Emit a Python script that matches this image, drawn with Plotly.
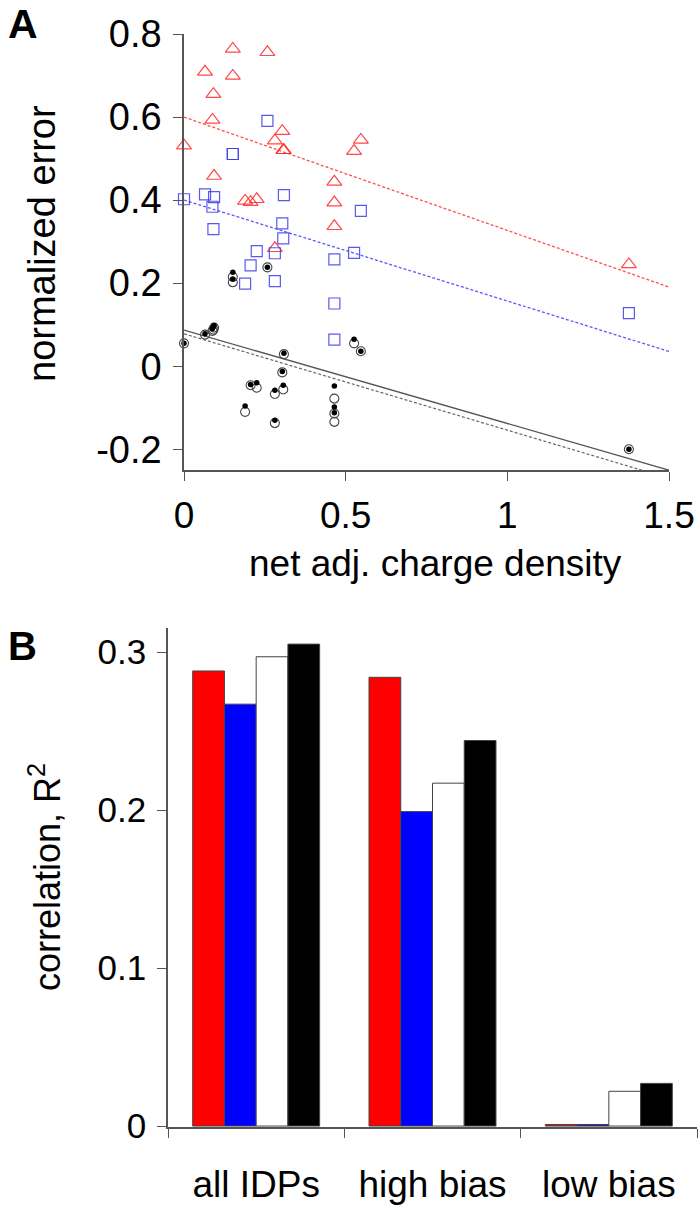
import plotly.graph_objects as go

# ---------------- Panel A data ----------------
charge_density = [0.000, 0.065, 0.088, 0.091, 0.093, 0.151, 0.151, 0.189, 0.206, 0.225, 0.258,
                  0.281, 0.281, 0.304, 0.307, 0.309, 0.465, 0.465, 0.465, 0.526, 0.547, 1.376]
err_red = [0.531, 0.709, 0.593, 0.655, 0.458, 0.764, 0.699, 0.398, 0.395, 0.402, 0.756,
           0.543, 0.284, 0.566, 0.520, 0.520, 0.444, 0.394, 0.337, 0.518, 0.545, 0.245]
err_blue = [0.402, 0.414, 0.384, 0.330, 0.407, 0.511, 0.511, 0.199, 0.243, 0.277, 0.591,
            0.272, 0.205, 0.344, 0.308, 0.412, 0.257, 0.151, 0.064, 0.273, 0.374, 0.128]
err_open = [0.055, 0.076, 0.085, 0.088, 0.093, 0.202, 0.215, -0.110, -0.046, -0.052, 0.238,
            -0.067, -0.137, -0.015, -0.056, 0.029, -0.078, -0.114, -0.134, 0.055, 0.036, -0.200]
err_filled = [0.055, 0.078, 0.090, 0.095, 0.098, 0.210, 0.226, -0.096, -0.044, -0.040, 0.238,
              -0.058, -0.130, -0.013, -0.046, 0.031, -0.048, -0.098, -0.112, 0.065, 0.036, -0.200]

# linear fits: (intercept, slope)
fit_red = (0.600, -0.273)
fit_blue = (0.400, -0.243)
fit_open = (0.087, -0.225)
fit_filled = (0.078, -0.232)
fit_x = [0.0, 1.5]

a_xticks = [0, 0.5, 1, 1.5]
a_xticklabels = ["0", "0.5", "1", "1.5"]
a_yticks = [-0.2, 0, 0.2, 0.4, 0.6, 0.8]
a_yticklabels = ["-0.2", "0", "0.2", "0.4", "0.6", "0.8"]

# ---------------- Panel B data ----------------
groups = ["all IDPs", "high bias", "low bias"]
r2_red = [0.288, 0.284, 0.001]
r2_blue = [0.267, 0.199, 0.001]
r2_open = [0.297, 0.217, 0.022]
r2_filled = [0.305, 0.244, 0.027]
b_yticks = [0, 0.1, 0.2, 0.3]
b_yticklabels = ["0", "0.1", "0.2", "0.3"]

FONT = "Liberation Sans, Arial, sans-serif"
AXC = "#555555"
W, H = 700, 1209

fig = go.Figure()


def fit_line(fit):
    return [fit[0] + fit[1] * x for x in fit_x]


# regression lines
fig.add_trace(go.Scatter(x=fit_x, y=fit_line(fit_red), mode="lines",
                         line=dict(color="rgba(255,60,60,0.9)", width=1.3, dash="3px,2px"),
                         xaxis="x", yaxis="y", showlegend=False))
fig.add_trace(go.Scatter(x=fit_x, y=fit_line(fit_blue), mode="lines",
                         line=dict(color="rgba(70,70,255,0.9)", width=1.3, dash="3px,2px"),
                         xaxis="x", yaxis="y", showlegend=False))
fig.add_trace(go.Scatter(x=fit_x, y=fit_line(fit_open), mode="lines",
                         line=dict(color="#555555", width=1.3),
                         xaxis="x", yaxis="y", showlegend=False))
fig.add_trace(go.Scatter(x=fit_x, y=fit_line(fit_filled), mode="lines",
                         line=dict(color="#666666", width=1.2, dash="3px,2px"),
                         xaxis="x", yaxis="y", showlegend=False))

# markers
fig.add_trace(go.Scatter(x=charge_density, y=err_red, mode="markers", cliponaxis=False,
                         marker=dict(symbol="triangle-up-open", size=13, color="rgba(255,40,40,0.85)",
                                     line=dict(width=1.2)),
                         xaxis="x", yaxis="y", showlegend=False))
fig.add_trace(go.Scatter(x=charge_density, y=err_blue, mode="markers", cliponaxis=False,
                         marker=dict(symbol="square-open", size=11, color="rgba(60,60,240,0.85)",
                                     line=dict(width=1.2)),
                         xaxis="x", yaxis="y", showlegend=False))
fig.add_trace(go.Scatter(x=charge_density, y=err_open, mode="markers", cliponaxis=False,
                         marker=dict(symbol="circle-open", size=9, color="#444444",
                                     line=dict(width=1.1)),
                         xaxis="x", yaxis="y", showlegend=False))
fig.add_trace(go.Scatter(x=charge_density, y=err_filled, mode="markers", cliponaxis=False,
                         marker=dict(symbol="circle", size=5.5, color="#000000"),
                         xaxis="x", yaxis="y", showlegend=False))

# bars
bar_line = dict(color="#444444", width=1)
for vals, col in [(r2_red, "#FF0000"), (r2_blue, "#0000FF"), (r2_open, "#FFFFFF"), (r2_filled, "#000000")]:
    fig.add_trace(go.Bar(x=groups, y=vals, marker=dict(color=col, line=bar_line),
                         xaxis="x2", yaxis="y2", showlegend=False))

common_axis = dict(ticks="outside", ticklen=9, tickcolor=AXC, tickwidth=1,
                   showline=True, linecolor=AXC, linewidth=1.5,
                   showgrid=False, zeroline=False, automargin=False)


def px_x(p):
    return p / W


def px_y(p):
    return 1 - p / H


fig.update_layout(
    width=W, height=H,
    margin=dict(l=0, r=0, t=0, b=0),
    paper_bgcolor="white", plot_bgcolor="white",
    font=dict(family=FONT, color="black", size=36),
    barmode="group", bargap=0.28, bargroupgap=0,
    xaxis=dict(domain=[px_x(184), px_x(669)], range=[0, 1.5], anchor="y",
               tickmode="array", tickvals=a_xticks, ticktext=a_xticklabels,
               tickfont=dict(size=37), ticklabelstandoff=3, **common_axis),
    yaxis=dict(domain=[px_y(470), px_y(34)], range=[-0.25, 0.8], anchor="x",
               tickmode="array", tickvals=a_yticks, ticktext=a_yticklabels,
               tickfont=dict(size=38), ticklabelstandoff=4, **common_axis),
    xaxis2=dict(domain=[px_x(168), px_x(697)], range=[-0.5, 2.5], anchor="y2",
                type="category", tickson="boundaries",
                tickfont=dict(size=37), ticklabelstandoff=24, **common_axis),
    yaxis2=dict(domain=[px_y(1127), px_y(628)], range=[-0.0006, 0.3152], anchor="x2",
                tickmode="array", tickvals=b_yticks, ticktext=b_yticklabels,
                tickfont=dict(size=35), ticklabelstandoff=4, **common_axis),
    annotations=[
        dict(text="<b>A</b>", x=px_x(6), y=px_y(24), xref="paper", yref="paper",
             xanchor="left", yanchor="middle", showarrow=False, font=dict(size=41)),
        dict(text="<b>B</b>", x=px_x(6), y=px_y(646), xref="paper", yref="paper",
             xanchor="left", yanchor="middle", showarrow=False, font=dict(size=40)),
        dict(text="normalized error", x=px_x(42), y=px_y(244), xref="paper", yref="paper",
             xanchor="center", yanchor="middle", textangle=-90, showarrow=False,
             font=dict(size=38)),
        dict(text="net adj. charge density", x=px_x(435), y=px_y(563), xref="paper", yref="paper",
             xanchor="center", yanchor="middle", showarrow=False, font=dict(size=37)),
        dict(text="correlation, R<sup>2</sup>", x=px_x(45), y=px_y(877), xref="paper", yref="paper",
             xanchor="center", yanchor="middle", textangle=-90, showarrow=False,
             font=dict(size=36)),
    ],
)

fig.write_html("out.html", config={"displayModeBar": False},
               post_script="document.body.style.margin='0px';")
